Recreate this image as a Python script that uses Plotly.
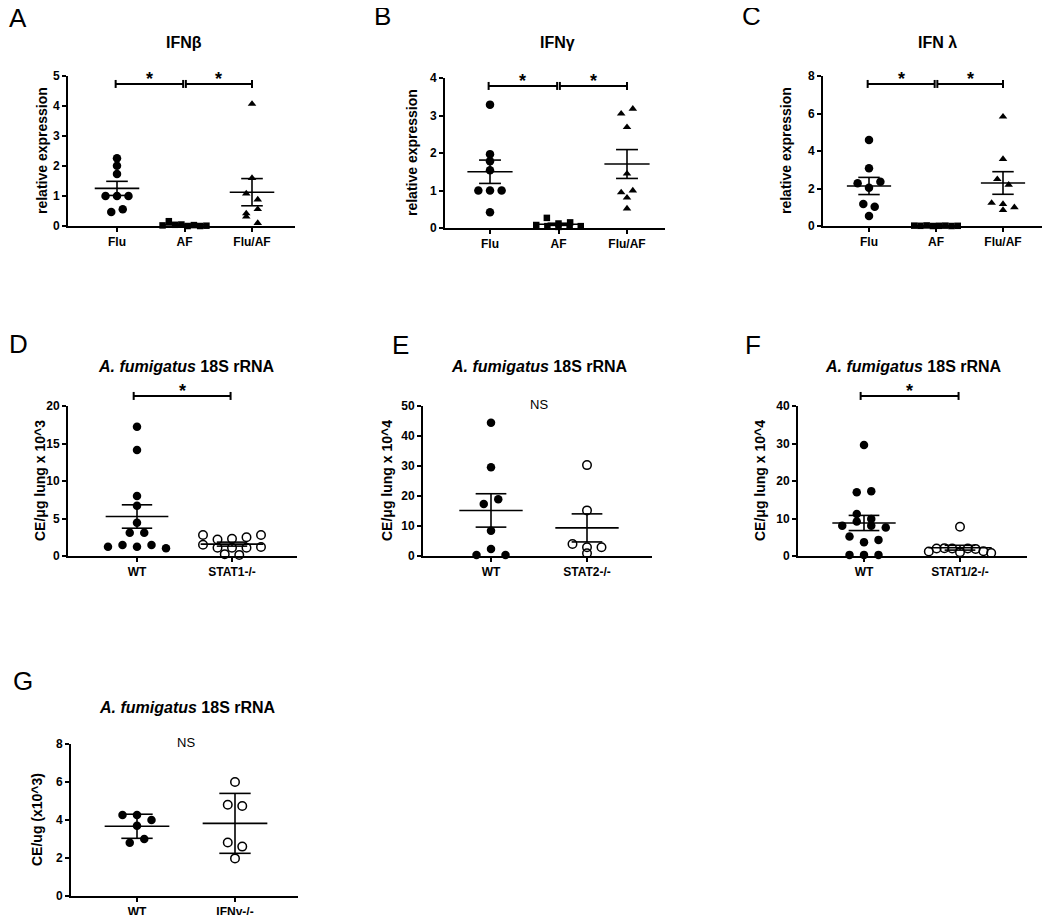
import plotly.graph_objects as go
import numpy as np

FONT = "Arial, 'Liberation Sans', sans-serif"
# the page body adds an 8px margin, so reference pixel (X, Y) is drawn at (X-8, Y-8)
OFF = 8
W, H = 1042, 907

# ---------------- data ----------------
A_title = "IFNβ"
A_cats = ["Flu", "AF", "Flu/AF"]
A_flu = [2.26, 2.01, 1.73, 1.0, 1.0, 1.0, 0.47, 0.56]
A_af = [0.02, 0.16, 0.04, 0.05, 0.0, 0.03, 0.0, 0.01]
A_fluaf = [4.07, 1.60, 1.08, 0.88, 0.42, 0.56, 0.31, 0.10]

B_title = "IFNγ"
B_cats = ["Flu", "AF", "Flu/AF"]
B_flu = [3.29, 1.97, 1.78, 1.54, 1.0, 1.0, 1.0, 0.42]
B_af = [0.27, 0.08, 0.12, 0.15, 0.05, 0.03, 0.04, 0.05]
B_fluaf = [3.05, 3.18, 2.69, 1.45, 0.95, 1.0, 0.81, 0.52]

C_title = "IFN λ"
C_cats = ["Flu", "AF", "Flu/AF"]
C_flu = [4.59, 3.08, 2.28, 2.04, 2.36, 1.17, 1.03, 0.53]
C_af = [0.02, 0.01, 0.03, 0.0, 0.01, 0.02, 0.0, 0.01]
C_fluaf = [5.83, 3.57, 2.50, 2.20, 1.23, 1.17, 1.00, 0.85]

AFU_title = "<i>A. fumigatus</i> 18S rRNA"

D_cats = ["WT", "STAT1-/-"]
D_wt = [17.24, 14.13, 8.0, 6.71, 4.44, 3.11, 3.11, 1.24, 1.47, 1.24, 1.47, 1.02]
D_ko = [2.8, 2.2, 2.3, 2.5, 2.8, 1.5, 1.1, 1.1, 1.1, 1.2, 0.25, 0.15]

E_cats = ["WT", "STAT2-/-"]
E_wt = [44.4, 29.6, 17.3, 18.9, 8.4, 0.3, 2.3, 0.3]
E_ko = [30.3, 15.2, 4.0, 2.9, 2.9, 0.9]

F_cats = ["WT", "STAT1/2-/-"]
F_wt = [29.6, 17.0, 17.3, 11.2, 9.9, 8.1, 9.2, 8.1, 7.6, 5.2, 3.7, 4.3, 0.3, 0.3, 0.3]
F_ko = [7.8, 1.2, 2.0, 2.1, 2.0, 1.0, 2.0, 1.9, 1.3, 0.8]

G_cats = ["WT", "IFNγ-/-"]
G_wt = [4.26, 4.26, 4.00, 3.70, 2.80, 3.00]
G_ko = [6.00, 4.80, 4.74, 2.82, 2.60, 1.98]

# ---------------- panel layout (reference pixels) ----------------
SYM3 = ["circle", "square", "triangle-up"]
SYM2 = ["circle", "circle-open"]
panels = [
    dict(letter="A", lpos=(18, 18), title=A_title, tpos=(184, 43), cats=A_cats,
         groups=[A_flu, A_af, A_fluaf], sym=SYM3, ylab="relative expression", ytx=42,
         ymax=5, dtick=1, err="sem", box=(68, 295, 76, 226), c0=117, s=67.5,
         sig=[(0, 1), (1, 2)], siglev=0.947, ns=None),
    dict(letter="B", lpos=(382, 16), title=B_title, tpos=(557, 43), cats=B_cats,
         groups=[B_flu, B_af, B_fluaf], sym=SYM3, ylab="relative expression", ytx=412,
         ymax=4, dtick=1, err="sem", box=(445, 665, 78, 228), c0=490, s=68.5,
         sig=[(0, 1), (1, 2)], siglev=0.947, ns=None),
    dict(letter="C", lpos=(752, 16), title=C_title, tpos=(937, 43), cats=C_cats,
         groups=[C_flu, C_af, C_fluaf], sym=SYM3, ylab="relative expression", ytx=786,
         ymax=8, dtick=2, err="sem", box=(823, 1046, 76, 226), c0=869, s=67,
         sig=[(0, 1), (1, 2)], siglev=0.947, ns=None),
    dict(letter="D", lpos=(18, 344), title=AFU_title, tpos=(186, 367), cats=D_cats,
         groups=[D_wt, D_ko], sym=SYM2, ylab="CE/μg lung x 10^3", ytx=40,
         ymax=20, dtick=5, err="sem", box=(68, 297, 406, 556), c0=137, s=95,
         sig=[(0, 1)], siglev=1.067, ns=None),
    dict(letter="E", lpos=(400, 345), title=AFU_title, tpos=(539, 367), cats=E_cats,
         groups=[E_wt, E_ko], sym=SYM2, ylab="CE/μg lung x 10^4", ytx=387,
         ymax=50, dtick=10, err="sem", box=(423, 652, 406, 556), c0=491, s=96,
         sig=[], siglev=None, ns=1.013),
    dict(letter="F", lpos=(753, 345), title=AFU_title, tpos=(913, 367), cats=F_cats,
         groups=[F_wt, F_ko], sym=SYM2, ylab="CE/μg lung x 10^4", ytx=760,
         ymax=40, dtick=10, err="sem", box=(798, 1027, 406, 556), c0=864, s=96,
         sig=[(0, 1)], siglev=1.067, ns=None),
    dict(letter="G", lpos=(23, 681), title=AFU_title, tpos=(187, 707), cats=G_cats,
         groups=[G_wt, G_ko], sym=SYM2, ylab="CE/ug (x10^3)", ytx=37,
         ymax=8, dtick=2, err="sd", box=(71, 298, 744, 896), c0=137, s=98,
         sig=[], siglev=None, ns=1.007),
]


def fx(x):
    return (x - OFF) / W


def fy(y):
    return 1 - (y - OFF) / H


def swarm_offsets(vals, px_per_unit, s_px):
    """Row-based beeswarm (Prism style): returns x offsets in category units."""
    vals = np.asarray(vals, float)
    order = np.argsort(-vals, kind="stable")
    thr = 7.0 / px_per_unit
    rows, cur = [], []
    for idx in order:
        if cur and vals[cur[0]] - vals[idx] >= thr:
            rows.append(cur)
            cur = []
        cur.append(idx)
    if cur:
        rows.append(cur)
    spacing = min(14.5, 0.17 * s_px)
    maxw = 0.65 * s_px
    off = np.zeros(len(vals))
    for r in rows:
        r = sorted(r)
        n = len(r)
        sp = spacing if n < 2 else min(spacing, maxw / (n - 1))
        for k, idx in enumerate(r):
            off[idx] = (k - (n - 1) / 2) * sp / s_px
    return off


fig = go.Figure()
annotations = []
shapes = []
BOLD = dict(family=FONT, size=12, color="black", weight="bold")


def paper_ann(text, x, y, size, bold=False, angle=0):
    f = dict(family=FONT, size=size, color="black")
    if bold:
        f["weight"] = "bold"
    return dict(text=text, x=fx(x), y=fy(y), xref="paper", yref="paper", xanchor="center",
                yanchor="middle", textangle=angle, showarrow=False, font=f)


for pi, p in enumerate(panels):
    n = pi + 1
    xa = "x" if n == 1 else f"x{n}"
    ya = "y" if n == 1 else f"y{n}"
    x0, x1, yt, yb = p["box"]
    x1 = min(x1, W + OFF - 1)
    c0, s = p["c0"], p["s"]
    ymax = p["ymax"]
    px_per_unit = (yb - yt) / ymax

    for gi, vals in enumerate(p["groups"]):
        vals = np.asarray(vals, float)
        off = swarm_offsets(vals, px_per_unit, s)
        sym = p["sym"][gi]
        size = {"circle": 8.5, "square": 6.5, "triangle-up": 7.5, "circle-open": 8.5}[sym]
        fig.add_trace(go.Scatter(
            x=gi + off, y=vals, mode="markers", xaxis=xa, yaxis=ya,
            marker=dict(symbol=sym, size=size, color="black",
                        line=dict(color="black", width=1.5 if sym == "circle-open" else 0)),
            cliponaxis=False, showlegend=False, hoverinfo="y"))
        m = vals.mean()
        sd = vals.std(ddof=1)
        e = sd if p["err"] == "sd" else sd / np.sqrt(len(vals))
        mw, cw = 0.33, 0.16
        fig.add_trace(go.Scatter(
            x=[gi - mw, gi + mw, None, gi, gi, None, gi - cw, gi + cw, None, gi - cw, gi + cw],
            y=[m, m, None, m - e, m + e, None, m + e, m + e, None, m - e, m - e],
            mode="lines", line=dict(color="black", width=1.6), xaxis=xa, yaxis=ya,
            cliponaxis=False, showlegend=False, hoverinfo="skip"))

    xkey = "xaxis" if n == 1 else f"xaxis{n}"
    ykey = "yaxis" if n == 1 else f"yaxis{n}"
    fig.update_layout(**{
        xkey: dict(domain=[fx(x0), fx(x1)], range=[(x0 - c0) / s, (x1 - c0) / s],
                   tickvals=list(range(len(p["cats"]))), ticktext=p["cats"],
                   ticks="outside", ticklen=4, tickwidth=1.5, tickcolor="black",
                   showline=True, linewidth=2, linecolor="black", showgrid=False,
                   zeroline=False, tickfont=BOLD, anchor=ya, fixedrange=True,
                   automargin=False),
        ykey: dict(domain=[fy(yb), fy(yt)], range=[0, ymax], dtick=p["dtick"],
                   tick0=0, ticks="outside", ticklen=4, tickwidth=1.5, tickcolor="black",
                   showline=True, linewidth=2, linecolor="black", showgrid=False,
                   zeroline=False, tickfont=BOLD, anchor=xa, fixedrange=True,
                   automargin=False),
    })

    annotations.append(paper_ann(p["letter"], *p["lpos"], 26))
    annotations.append(paper_ann(p["title"], *p["tpos"], 16, bold=True))
    annotations.append(paper_ann(p["ylab"], p["ytx"], (yt + yb) / 2, 14, bold=True, angle=-90))

    # significance bars
    ydom = f"{ya} domain"
    cap = 4.0 / (yb - yt)
    for (i, j) in p["sig"]:
        if len(p["sig"]) == 1:
            a, b = i - 0.035, j - 0.015
        else:
            a, b = i + 0.02 - (0.04 if i == 0 else 0), j - 0.02 + (0.02 if j == 2 else 0)
        lv = p["siglev"]
        for xx0, yy0, xx1, yy1 in [(a, lv, b, lv), (a, lv - cap, a, lv + cap), (b, lv - cap, b, lv + cap)]:
            shapes.append(dict(type="line", xref=xa, yref=ydom, x0=xx0, y0=yy0, x1=xx1, y1=yy1,
                               line=dict(color="black", width=2)))
        annotations.append(dict(text="*", x=(a + b) / 2, y=lv, xref=xa, yref=ydom,
                                xanchor="center", yanchor="middle", yshift=5, showarrow=False,
                                font=dict(family=FONT, size=18, color="black", weight="bold")))
    if p["ns"] is not None:
        annotations.append(dict(text="NS", x=0.5, y=p["ns"], xref=xa, yref=ydom,
                                xanchor="center", yanchor="middle", showarrow=False,
                                font=dict(family=FONT, size=13, color="black")))

fig.update_layout(width=W, height=H, autosize=False,
                  margin=dict(l=0, r=0, t=0, b=0, pad=0, autoexpand=False),
                  paper_bgcolor="white", plot_bgcolor="white", showlegend=False,
                  annotations=annotations, shapes=shapes,
                  font=dict(family=FONT, color="black"))

fig.write_html("out.html")
